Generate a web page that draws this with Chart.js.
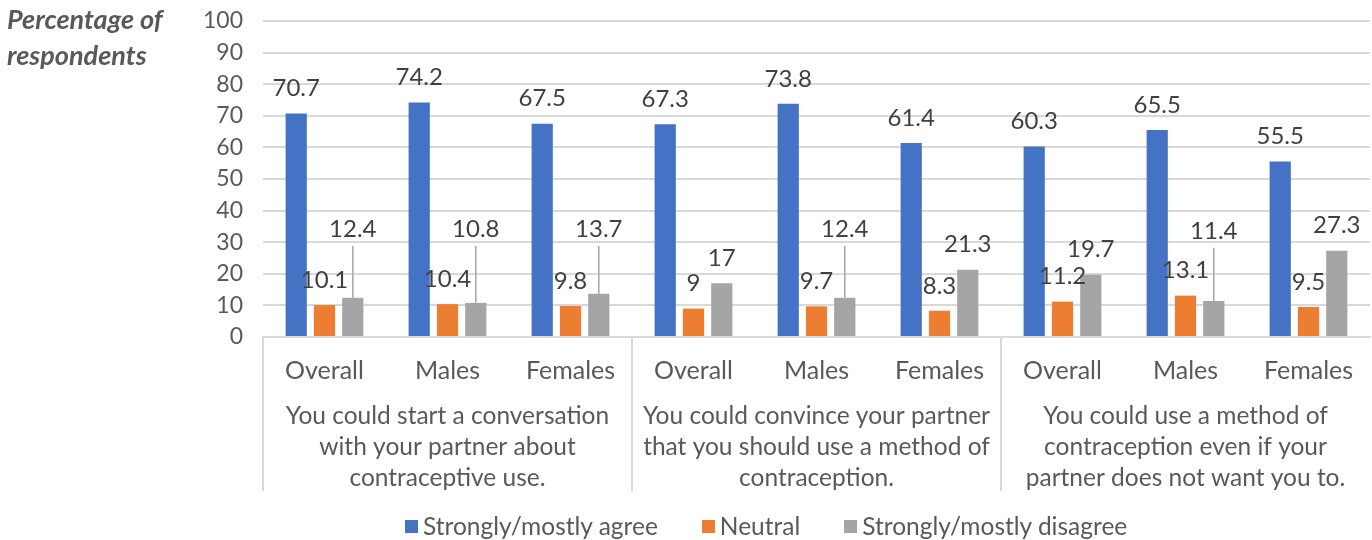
<!DOCTYPE html>
<html>
<head>
<meta charset="utf-8">
<script src="https://cdn.jsdelivr.net/npm/chart.js@4.4.1/dist/chart.umd.min.js"></script>
<style>
  html, body { margin: 0; padding: 0; background: #fff; }
  #wrap { position: relative; width: 1372px; height: 540px; }
  #yTitle {
    position: absolute; left: 7px; top: 1px;
    font: italic bold 27px Lato, sans-serif; color: #595959;
    line-height: 36px;
  }
  #legend {
    position: absolute; left: 405px; top: 511px;
    display: flex; align-items: center;
    font: 24.5px Lato, sans-serif; color: #595959; line-height: 30px;
    white-space: nowrap;
  }
  #legend .item { display: flex; align-items: center; margin-right: 44px; }
  #legend .box { width: 13px; height: 13px; margin-right: 5px; }
</style>
</head>
<body>
<div id="wrap">
  <canvas id="chart" width="1372" height="540"></canvas>
  <div id="yTitle">Percentage of<br>respondents</div>
  <div id="legend"></div>
</div>
<script>
// --- Data ---
const categories = ['Overall', 'Males', 'Females', 'Overall', 'Males', 'Females', 'Overall', 'Males', 'Females'];
const groups = [
    ['You could start a conversation', 'with your partner about', 'contraceptive use.'],
    ['You could convince your partner', 'that you should use a method of', 'contraception.'],
    ['You could use a method of', 'contraception even if your', 'partner does not want you to.']
];
const seriesNames = ['Strongly/mostly agree', 'Neutral', 'Strongly/mostly disagree'];
const agree = [70.7, 74.2, 67.5, 67.3, 73.8, 61.4, 60.3, 65.5, 55.5];
const neutral = [10.1, 10.4, 9.8, 9, 9.7, 8.3, 11.2, 13.1, 9.5];
const disagree = [12.4, 10.8, 13.7, 17, 12.4, 21.3, 19.7, 11.4, 27.3];
const yTicks = [0, 10, 20, 30, 40, 50, 60, 70, 80, 90, 100];

// disagree labels that were pulled up with a leader line (index -> value on y axis)
const leaderAt = { 0: 34.2, 1: 34.2, 2: 34.2, 4: 34.2, 7: 33.6 };

const COLORS = ['#4472c4', '#ed7d31', '#a5a5a5'];
const FONT = 'Lato, sans-serif';
const GRID = '#d9d9d9';

// data labels + leader lines
const labelPlugin = {
    id: 'barLabels',
    afterDatasetsDraw(chart) {
        const ctx = chart.ctx;
        const y = chart.scales.y;
        ctx.save();
        ctx.font = '24px ' + FONT;
        ctx.fillStyle = '#404040';
        ctx.textAlign = 'center';
        ctx.textBaseline = 'middle';
        chart.data.datasets.forEach((ds, di) => {
            const meta = chart.getDatasetMeta(di);
            meta.data.forEach((bar, i) => {
                const v = ds.data[i];
                if (di === 2 && leaderAt[i] !== undefined) {
                    const ly = y.getPixelForValue(leaderAt[i]);
                    ctx.strokeStyle = '#a5a5a5';
                    ctx.lineWidth = 1.5;
                    ctx.beginPath();
                    ctx.moveTo(bar.x, ly + 17);
                    ctx.lineTo(bar.x, bar.y);
                    ctx.stroke();
                    ctx.fillText(String(v), bar.x, ly);
                } else {
                    ctx.fillText(String(v), bar.x, bar.y - 25);
                }
            });
        });
        ctx.restore();
    }
};

// multi-level axis box / separators
const groupBoxPlugin = {
    id: 'groupBox',
    afterDraw(chart) {
        const ctx = chart.ctx;
        const x = chart.scales.x;
        const x2 = chart.scales.x2;
        const area = chart.chartArea;
        const w = x.getPixelForValue(1) - x.getPixelForValue(0);
        ctx.save();
        ctx.strokeStyle = GRID;
        ctx.lineWidth = 2;
        [0, 3, 6].forEach(i => {
            const px = Math.round(x.getPixelForValue(i) - w / 2);
            ctx.beginPath();
            ctx.moveTo(px, area.bottom);
            ctx.lineTo(px, x2.bottom - 2);
            ctx.stroke();
        });
        ctx.restore();
    }
};

new Chart(document.getElementById('chart'), {
    type: 'bar',
    data: {
        labels: categories,
        datasets: [
            { label: seriesNames[0], data: agree, backgroundColor: COLORS[0] },
            { label: seriesNames[1], data: neutral, backgroundColor: COLORS[1] },
            { label: seriesNames[2], data: disagree, backgroundColor: COLORS[2] }
        ]
    },
    options: {
        responsive: false,
        animation: false,
        categoryPercentage: 0.69,
        barPercentage: 0.75,
        layout: { padding: { left: 0, right: 2, top: 0, bottom: 47 } },
        plugins: {
            tooltip: { enabled: false },
            legend: { display: false }
        },
        scales: {
            y: {
                min: 0, max: 100,
                afterBuildTicks: axis => { axis.ticks = yTicks.map(v => ({ value: v })); },
                afterFit: axis => { axis.width = 263; axis.paddingTop = 21; },
                grid: { color: GRID, lineWidth: 2, drawTicks: false },
                border: { display: false },
                ticks: { padding: 20, autoSkip: false, color: '#595959', font: { family: FONT, size: 23 } }
            },
            x: {
                afterFit: axis => { axis.height = 48; },
                grid: { display: false },
                border: { color: GRID, width: 2 },
                ticks: { padding: 11, color: '#595959', maxRotation: 0, autoSkip: false, font: { family: FONT, size: 25 } }
            },
            x2: {
                type: 'category',
                position: 'bottom',
                labels: groups,
                offset: true,
                afterFit: axis => { axis.height = 108; },
                grid: { display: false },
                border: { display: false },
                ticks: { padding: 8, color: '#595959', maxRotation: 0, autoSkip: false, font: { family: FONT, size: 24.5, lineHeight: '31px' } }
            }
        }
    },
    plugins: [labelPlugin, groupBoxPlugin]
});

// legend as plain html
const legend = document.getElementById('legend');
legend.innerHTML = seriesNames.map((name, i) => `
    <div class="item"><span class="box" style="background:${COLORS[i]}"></span>${name}</div>
`).join('');
</script>
</body>
</html>
